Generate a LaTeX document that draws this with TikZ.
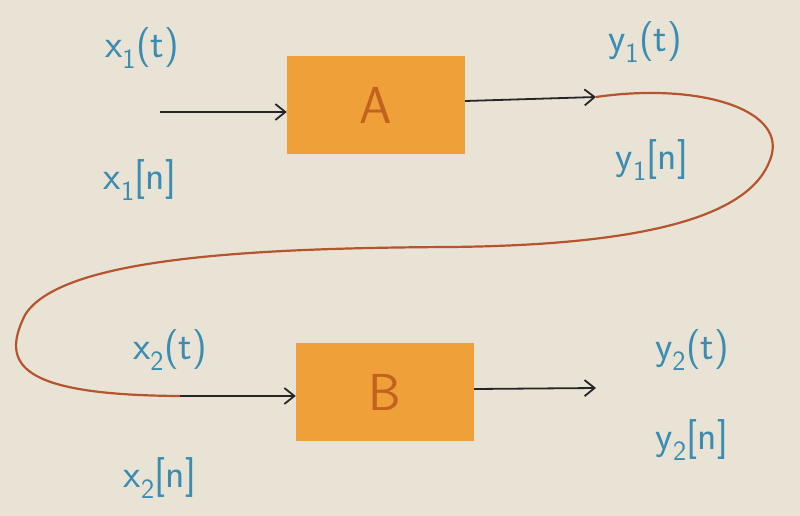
\documentclass[tikz,border=0pt]{standalone}
\usepackage{fontspec}
\usetikzlibrary{arrows.meta}
\definecolor{bg}{HTML}{E9E3D5}
\definecolor{boxfill}{HTML}{EFA038}
\definecolor{letterc}{HTML}{C2621E}
\definecolor{lab}{HTML}{3A8DB0}
\definecolor{wire}{HTML}{B5542E}
\newcommand{\sig}[2]{#1\textsubscript{#2}}
\tikzset{
  blk/.style={draw=none, fill=boxfill, minimum width=178pt, minimum height=98pt, inner sep=0pt,
    text=letterc, font=\fontsize{52}{56}\selectfont\sffamily},
  lbl/.style={text=lab, font=\fontsize{40}{44}\selectfont\sffamily},
  sigarrow/.style={draw=black!85, line width=1.8pt, -{Straight Barb[length=10pt,width=16pt]}},
  loopwire/.style={draw=wire, line width=2.2pt}
}
\begin{document}
\begin{tikzpicture}[x=1pt,y=-1pt]
\fill[bg] (0,0) rectangle (800,516);
\useasboundingbox (0,0) rectangle (800,516);
\node[blk] (boxA) at (376,105) {A};
\node[blk] (boxB) at (385,392) {B};
\coordinate (xin) at (160,112);
\coordinate (y1end) at (596,97);
\coordinate (x2start) at (180,396);
\coordinate (y2end) at (596,388);
\draw[sigarrow] (xin) -- (xin -| boxA.west);
\draw[sigarrow] (boxA.east |- 0,101) -- (y1end);
\draw[loopwire] (y1end) .. controls (700,82) and (790,110) .. (770,160)
  .. controls (750,215) and (650,245) .. (450,247)
  .. controls (250,248) and (60,258) .. (25,315)
  .. controls (0,365) and (20,395) .. (x2start);
\draw[sigarrow] (x2start) -- (x2start -| boxB.west);
\draw[sigarrow] (boxB.east |- 0,389) -- (y2end);
\node[lbl] (lx1t) at (142,48) {\sig{x}{1}(t)};
\node[lbl] (lx1n) at (140,180) {\sig{x}{1}[n]};
\node[lbl] (ly1t) at (645,42) {\sig{y}{1}(t)};
\node[lbl] (ly1n) at (652,160) {\sig{y}{1}[n]};
\node[lbl] (lx2t) at (170,350) {\sig{x}{2}(t)};
\node[lbl] (lx2n) at (160,478) {\sig{x}{2}[n]};
\node[lbl] (ly2t) at (692,350) {\sig{y}{2}(t)};
\node[lbl] (ly2n) at (692,440) {\sig{y}{2}[n]};
\end{tikzpicture}
\end{document}
